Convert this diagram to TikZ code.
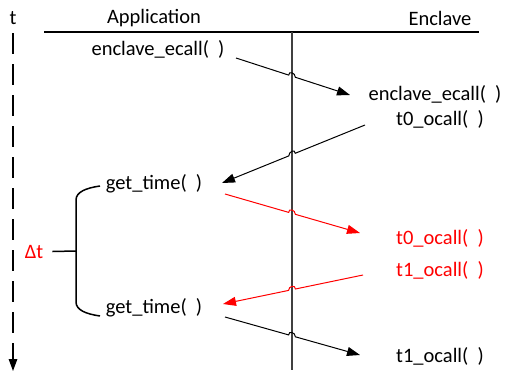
\documentclass[tikz,border=0pt]{standalone}
\usepackage{fontspec}
\setmainfont{Carlito}
\usepackage{tikz}
\usetikzlibrary{arrows.meta, calc, intersections}
\tikzstyle{lbl} = [font=\fontsize{20.5}{24}\selectfont, inner sep=0pt, anchor=base]
\tikzstyle{rlbl} = [lbl, text=red]
\tikzstyle{arrow} = [line width=1pt, -{Triangle[length=13pt,width=9pt]}]
\tikzstyle{lifeline} = [line width=1.3pt, black!75]
\tikzstyle{brace} = [line width=1.5pt]
\tikzstyle{timeaxis} = [line width=1.3pt, dash pattern=on 21pt off 10pt, -{Triangle[length=12pt,width=8.5pt]}]

% message arrow that hops over the lifeline
\newcommand{\hoparrow}[3]{%
  \coordinate (hs) at (#2);
  \coordinate (he) at (#3);
  \path[name path=msg] (hs) -- (he);
  \path[name intersections={of=life and msg, by=hx}];
  \draw[arrow, #1] (hs) -- ($(hx)!3.5pt!(hs)$)
    .. controls +(0pt,4.5pt) and +(0pt,4.5pt) .. ($(hx)!3.5pt!(he)$) -- (he);
}

\begin{document}
\begin{tikzpicture}[x=1pt, y=-1pt]
\useasboundingbox (0,0) rectangle (508,372);

\node (tlab) [lbl] at (13,24) {t};
\node (app) [lbl] at (154,23) {Application};
\node (encl) [lbl] at (440,25) {Enclave};

\node (ecallA) [lbl] at (158,55) {enclave\_ecall(~~)};
\node (ecallE) [lbl] at (435,100) {enclave\_ecall(~~)};
\node (t0a) [lbl] at (440,125) {t0\_ocall(~~)};
\node (get1) [lbl] at (154,189) {get\_time(~~)};
\node (t0b) [rlbl] at (440,244) {t0\_ocall(~~)};
\node (t1a) [rlbl] at (440,276) {t1\_ocall(~~)};
\node (get2) [lbl] at (154,313) {get\_time(~~)};
\node (t1b) [lbl] at (440,362) {t1\_ocall(~~)};
\node (dt) [rlbl] at (34,258) {Δt};

\coordinate (tend) at (13,371);
\draw [timeaxis] ([yshift=-9pt]tlab.base) -- (tend);
\draw [line width=1.3pt] (44,32) -- (479,32);
\draw [lifeline, name path=life] (292,32) -- (292,370);

\hoparrow{black}{[shift={(78,3)}]ecallA.base}{[shift={(-85,-5)}]ecallE.base}
\hoparrow{black}{[shift={(-75,0)}]t0a.base}{[shift={(68,-6)}]get1.base}
\hoparrow{red}{[shift={(71,5)}]get1.base}{[shift={(-80,-11)}]t0b.base}
\hoparrow{red}{[shift={(-77,-1)}]t1a.base}{[shift={(69,-9)}]get2.base}
\hoparrow{black}{[shift={(71,4)}]get2.base}{[shift={(-80,-7)}]t1b.base}

\draw [brace] (100,186) .. controls (86,188) and (76,192) .. (76,200) -- (76,302)
  .. controls (76,310) and (86,314) .. (100,316);
\draw [brace] ([xshift=9pt]dt.east) -- (76,251);

\end{tikzpicture}
\end{document}
